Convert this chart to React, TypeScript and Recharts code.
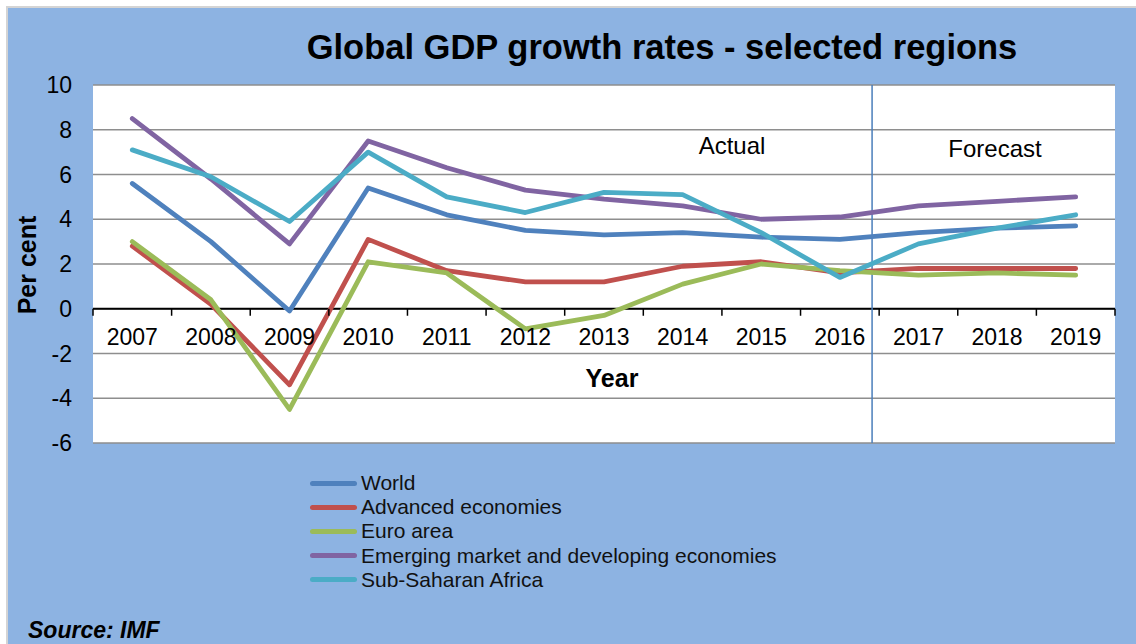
import React from "react";
import {
  CartesianGrid,
  Line,
  LineChart,
  ReferenceLine,
  XAxis,
  YAxis,
} from "recharts";

const years = ["2007", "2008", "2009", "2010", "2011", "2012", "2013", "2014", "2015", "2016", "2017", "2018", "2019"];
const world = [5.6, 3.0, -0.1, 5.4, 4.2, 3.5, 3.3, 3.4, 3.2, 3.1, 3.4, 3.6, 3.7];
const advanced = [2.8, 0.2, -3.4, 3.1, 1.7, 1.2, 1.2, 1.9, 2.1, 1.6, 1.8, 1.8, 1.8];
const euro = [3.0, 0.4, -4.5, 2.1, 1.6, -0.9, -0.3, 1.1, 2.0, 1.7, 1.5, 1.6, 1.5];
const emerging = [8.5, 5.8, 2.9, 7.5, 6.3, 5.3, 4.9, 4.6, 4.0, 4.1, 4.6, 4.8, 5.0];
const ssa = [7.1, 5.9, 3.9, 7.0, 5.0, 4.3, 5.2, 5.1, 3.4, 1.4, 2.9, 3.6, 4.2];
const yTicks = [-6, -4, -2, 0, 2, 4, 6, 8, 10];

const series = [
  { key: "world", name: "World", color: "#4f81bd" },
  { key: "advanced", name: "Advanced economies", color: "#c0504d" },
  { key: "euro", name: "Euro area", color: "#9bbb59" },
  { key: "emerging", name: "Emerging market and developing economies", color: "#8064a2" },
  { key: "ssa", name: "Sub-Saharan Africa", color: "#4bacc6" },
];

const data = years.map((year, i) => ({
  year,
  world: world[i],
  advanced: advanced[i],
  euro: euro[i],
  emerging: emerging[i],
  ssa: ssa[i],
}));

const FONT = '"Liberation Sans", Arial, sans-serif';
const W = 1136;
const H = 644;
const PLOT_LEFT = 93;
const PLOT_RIGHT = 1115;
const PLOT_TOP = 85;
const PLOT_BOTTOM = 443;
const X_AXIS_H = 30;
const Y_MIN = -6;
const Y_MAX = 10;
const BAND = (PLOT_RIGHT - PLOT_LEFT) / years.length;
const ZERO_Y = PLOT_TOP + ((PLOT_BOTTOM - PLOT_TOP) * Y_MAX) / (Y_MAX - Y_MIN);
// actual / forecast divider, in category-index units (2007 = 0)
const DIVIDER = 9.41;

const YearTick = (props: any) => {
  const { x, payload, index } = props;
  const last = index === years.length - 1;
  return (
    <g>
      <line x1={x - BAND / 2} x2={x - BAND / 2} y1={ZERO_Y} y2={ZERO_Y + 7} stroke="#000" strokeWidth={1.5} />
      {last && (
        <line x1={x + BAND / 2} x2={x + BAND / 2} y1={ZERO_Y} y2={ZERO_Y + 7} stroke="#000" strokeWidth={1.5} />
      )}
      <text x={x} y={ZERO_Y + 36} textAnchor="middle" fontSize={23} fontFamily={FONT} fill="#000">
        {payload.value}
      </text>
    </g>
  );
};

const App = () => {
  return (
    <div style={{ position: "fixed", left: 0, top: 0, width: W, height: H, overflow: "hidden", background: "#fff", fontFamily: FONT }}>
      <div
        style={{
          position: "absolute",
          left: 6,
          top: 6,
          right: 0,
          bottom: 0,
          background: "#8db3e2",
          borderLeft: "2px solid #d4d4d4",
          borderTop: "2px solid #d4d4d4",
        }}
      />
      <div style={{ position: "absolute", left: PLOT_LEFT, top: PLOT_TOP, width: PLOT_RIGHT - PLOT_LEFT, height: PLOT_BOTTOM - PLOT_TOP, background: "#fff" }} />
      <div style={{ position: "absolute", left: 0, top: 0 }}>
        <LineChart
          width={W}
          height={H}
          data={data}
          margin={{ top: PLOT_TOP, right: W - PLOT_RIGHT, bottom: H - PLOT_BOTTOM - X_AXIS_H, left: 0 }}>
          <CartesianGrid horizontal vertical={false} stroke="#8e8e8e" strokeWidth={1.5} />
          <XAxis
            dataKey="year"
            height={X_AXIS_H}
            axisLine={false}
            tickLine={false}
            padding={{ left: BAND / 2, right: BAND / 2 }}
            tick={(p: any) => <YearTick {...p} />}
            interval={0}
          />
          <XAxis
            xAxisId="n"
            type="number"
            domain={[0, years.length - 1]}
            allowDataOverflow
            padding={{ left: BAND / 2, right: BAND / 2 }}
            hide
          />
          <YAxis
            width={PLOT_LEFT}
            domain={[Y_MIN, Y_MAX]}
            ticks={yTicks}
            axisLine={false}
            tickLine={false}
            tickSize={0}
            tickMargin={21}
            tick={{ fill: "#000", fontSize: 23, fontFamily: FONT }}
          />
          <ReferenceLine y={0} stroke="#000" strokeWidth={2} />
          <ReferenceLine x={DIVIDER} xAxisId="n" stroke="#4a7ebb" strokeWidth={1.5} />
          {series.map((s) => (
            <Line
              key={s.key}
              type="linear"
              dataKey={s.key}
              name={s.name}
              stroke={s.color}
              strokeWidth={4.8}
              strokeLinecap="round"
              strokeLinejoin="round"
              dot={false}
              activeDot={false}
              isAnimationActive={false}
            />
          ))}
        </LineChart>
      </div>
      <div style={{ position: "absolute", left: 0, width: 1324, top: 27, textAlign: "center", fontSize: 34.5, fontWeight: "bold", lineHeight: "40px" }}>
        Global GDP growth rates - selected regions
      </div>
      <div style={{ position: "absolute", left: 612, top: 378, transform: "translate(-50%, -50%)", fontSize: 25, fontWeight: "bold" }}>
        Year
      </div>
      <div style={{ position: "absolute", left: 27, top: 265, transform: "translate(-50%, -50%) rotate(-90deg)", fontSize: 25, fontWeight: "bold", whiteSpace: "nowrap" }}>
        Per cent
      </div>
      <div style={{ position: "absolute", left: 732, top: 146, transform: "translate(-50%, -50%)", fontSize: 24 }}>Actual</div>
      <div style={{ position: "absolute", left: 995, top: 149, transform: "translate(-50%, -50%)", fontSize: 24 }}>Forecast</div>
      <div style={{ position: "absolute", left: 310, top: 471 }}>
        {series.map((s) => (
          <div key={s.key} style={{ display: "flex", alignItems: "center", height: 24.2 }}>
            <div style={{ width: 47, height: 5, borderRadius: 3, background: s.color, marginRight: 4 }} />
            <span style={{ fontSize: 21, color: "#111" }}>{s.name}</span>
          </div>
        ))}
      </div>
      <div style={{ position: "absolute", left: 28, top: 630, transform: "translateY(-50%)", fontSize: 23, fontWeight: "bold", fontStyle: "italic" }}>
        Source: IMF
      </div>
    </div>
  );
};

export default App;
